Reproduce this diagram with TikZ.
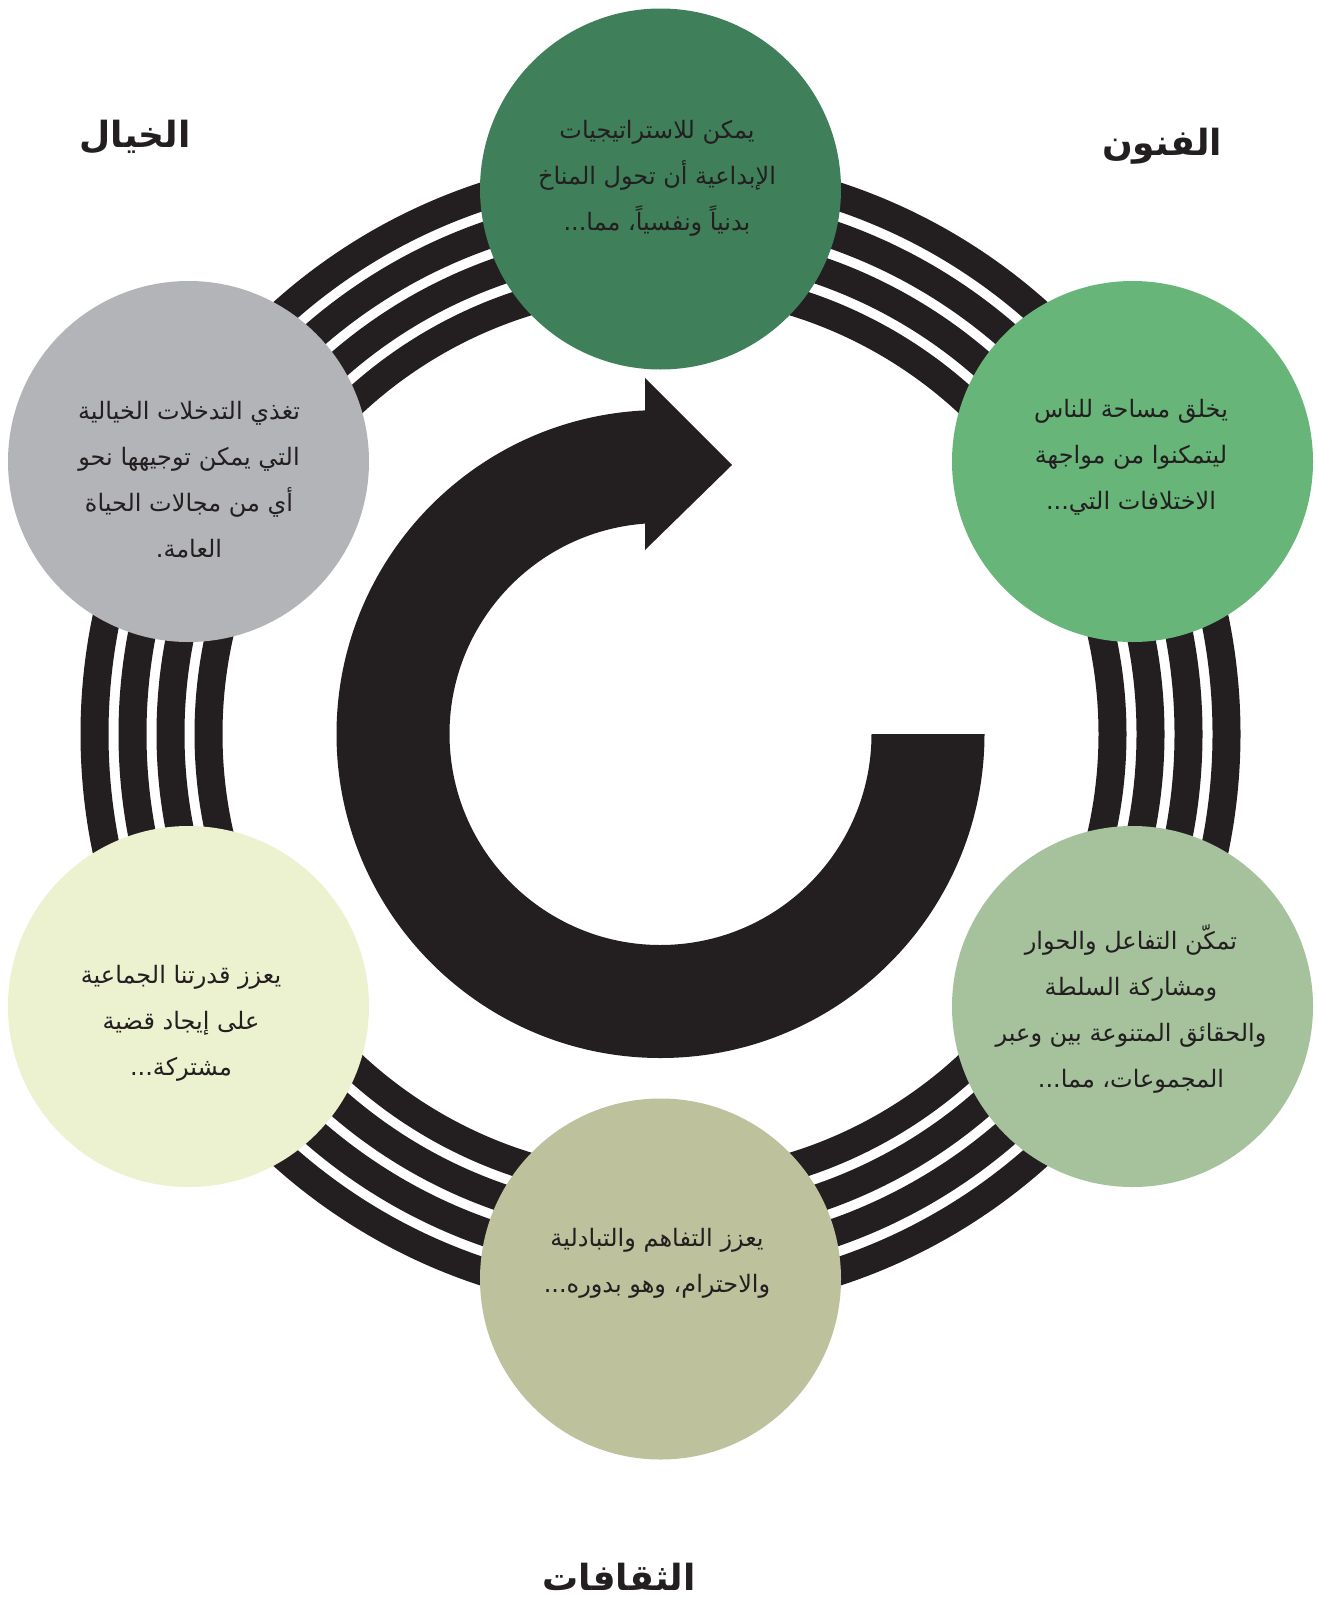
\documentclass[tikz,border=0pt]{standalone}
\usepackage{fontspec}
\newfontfamily\arabicfont[Script=Arabic]{DejaVu Sans}
\TeXXeTstate=1
% one right-to-left line
\newcommand{\rl}[1]{\beginR #1\endR}

\definecolor{ink}{HTML}{231F20}
\definecolor{pine}{HTML}{3F805B}
\definecolor{leaf}{HTML}{67B579}
\definecolor{sage}{HTML}{A5C29D}
\definecolor{olive}{HTML}{BEC29C}
\definecolor{cream}{HTML}{ECF1CF}
\definecolor{stone}{HTML}{B3B4B8}

\begin{document}
\begin{tikzpicture}
[x=1pt,y=1pt,
bubble/.style={circle,minimum size=361pt,inner sep=0pt},
blurb/.style={align=center,text=ink,inner sep=0pt,
  font=\arabicfont\fontsize{24}{46}\selectfont},
heading/.style={text=ink,inner sep=0pt,
  font=\arabicfont\bfseries\fontsize{36}{40}\selectfont},
band/.style={draw=ink,line width=28pt}]
\useasboundingbox (0,0) rectangle (1317,-1598);
\fill[white] (0,0) rectangle (1317,-1598);

\coordinate (hub) at (660.5,-734);

% striped ring behind the circles
\foreach \r in {566,528,490,452}
  \draw[band] (hub) circle[radius=\r];

% the six circles
\node[bubble,fill=pine]  (climate)  at (660.5,-189) {};
\node[bubble,fill=leaf]  (space)    at (1132.5,-461.5) {};
\node[bubble,fill=sage]  (dialogue) at (1132.5,-1006.5) {};
\node[bubble,fill=olive] (respect)  at (660.5,-1279) {};
\node[bubble,fill=cream] (cause)    at (188.5,-1006.5) {};
\node[bubble,fill=stone] (feed)     at (188.5,-461.5) {};

% big turning arrow in the middle
\fill[ink] ([shift={(hub)}]0:324) arc[start angle=0,end angle=-267.3,radius=324]
  -- (645,-378) -- (732,-465) -- (645,-550)
  -- ([shift={(hub)}]-265.8:211) arc[start angle=-265.8,end angle=0,radius=211]
  -- cycle;

% texts
\node[blurb] (climate text) at (657,-178.5)
  {\rl{يمكن للاستراتيجيات}\\\rl{الإبداعية أن تحول المناخ}\\\rl{بدنياً ونفسياً، مما...}};
\node[blurb] (space text) at (1131,-457)
  {\rl{يخلق مساحة للناس}\\\rl{ليتمكنوا من مواجهة}\\\rl{الاختلافات التي...}};
\node[blurb] (dialogue text) at (1131,-1009)
  {\rl{تمكّن التفاعل والحوار}\\\rl{ومشاركة السلطة}\\\rl{والحقائق المتنوعة بين وعبر}\\\rl{المجموعات، مما...}};
\node[blurb] (respect text) at (657,-1263.5)
  {\rl{يعزز التفاهم والتبادلية}\\\rl{والاحترام، وهو بدوره...}};
\node[blurb] (cause text) at (181,-1023)
  {\rl{يعزز قدرتنا الجماعية}\\\rl{على إيجاد قضية}\\\rl{مشتركة...}};
\node[blurb] (feed text) at (189,-479.5)
  {\rl{تغذي التدخلات الخيالية}\\\rl{التي يمكن توجيهها نحو}\\\rl{أي من مجالات الحياة}\\\rl{العامة.}};

% headings
\node[heading] (imagination) at (135,-137) {\rl{الخيال}};
\node[heading] (arts) at (1162,-146) {\rl{الفنون}};
\node[heading] (cultures) at (619,-1577) {\rl{الثقافات}};
\end{tikzpicture}
\end{document}
